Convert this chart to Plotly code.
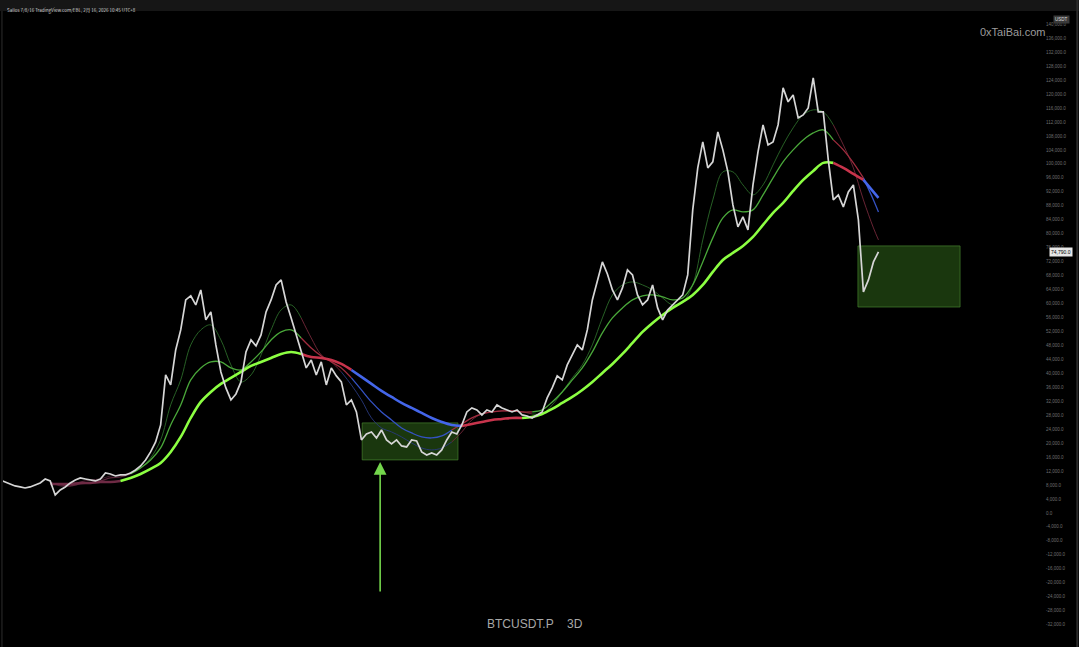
import pandas as pd
import plotly.graph_objects as go

# ---------------- data (BTCUSDT.P, 3D, values in thousand USDT) ----------------
series_start = "2019-10-27"
sample_hours = 322  # spacing between sampled closes

close_k = [
    9.46, 8.88, 8.31, 7.74, 7.45, 7.16, 7.45, 8.02, 8.60, 9.74,
    9.17, 5.16, 6.59, 7.45, 8.60, 9.46, 10.03, 9.74, 9.46, 9.17,
    9.74, 11.46, 11.17, 10.60, 10.89, 10.89, 11.46, 12.32, 13.47, 15.19,
    17.48, 20.34, 25.21, 39.54, 36.68, 46.70, 52.44, 61.03, 62.18, 59.60,
    63.90, 55.30, 57.59, 48.14, 40.40, 35.82, 32.38, 34.10, 37.54, 46.13,
    49.57, 47.85, 51.00, 57.59, 61.03, 65.33, 66.76, 60.46, 55.87, 51.00,
    46.13, 41.55, 43.84, 39.54, 43.27, 36.68, 41.55, 39.26, 37.54, 30.95,
    32.38, 28.94, 20.92, 22.64, 23.21, 21.49, 23.78, 20.92, 19.77, 20.92,
    19.20, 18.91, 20.92, 20.63, 17.48, 16.62, 17.19, 16.62, 18.05, 20.92,
    23.21, 22.64, 25.21, 28.94, 30.09, 29.51, 28.08, 29.51, 28.94, 30.95,
    30.09, 29.51, 28.94, 29.51, 28.08, 27.79, 27.22, 28.08, 28.94, 32.95,
    35.82, 39.26, 38.11, 42.41, 45.27, 48.14, 46.70, 52.44, 61.03, 66.76,
    71.92, 68.48, 63.90, 61.03, 64.47, 69.63, 68.19, 62.46, 59.60, 61.03,
    65.33, 58.74, 55.30, 58.17, 59.60, 61.03, 62.46, 68.19, 86.82, 98.85,
    106.30, 98.85, 100.57, 109.17, 104.01, 97.71, 88.25, 81.95, 84.81, 81.09,
    93.98, 103.44, 111.17, 105.44, 106.30, 111.17, 121.78, 117.77, 119.77, 113.18,
    114.04, 116.05, 124.64, 114.90, 114.90, 101.15, 89.68, 91.12, 87.68, 91.98,
    93.98, 83.95, 63.32, 66.76, 71.92, 74.79,
]

# moving averages sampled on every 2nd close from sample 10 on (plus the last one)
ma_sample_index = list(range(10, 175, 2)) + [175]

ma_slow_k = [
    8.31, 8.31, 8.31, 8.60, 8.60, 8.88, 8.88, 9.17, 10.03, 11.17,
    12.61, 14.33, 17.48, 21.78, 27.22, 31.81, 34.67, 36.96, 38.68, 40.40,
    42.12, 43.27, 44.41, 45.56, 46.13, 45.56, 44.70, 44.41, 43.84, 42.69,
    40.97, 38.97, 36.96, 34.96, 33.24, 31.52, 30.09, 28.65, 27.22, 26.07,
    25.21, 24.93, 25.50, 26.07, 26.65, 26.93, 27.22, 27.22, 27.51, 28.37,
    29.80, 31.52, 33.24, 35.24, 37.54, 40.11, 42.69, 45.56, 48.71, 51.86,
    54.44, 56.73, 58.74, 60.46, 62.46, 65.33, 69.05, 72.49, 74.50, 76.50,
    79.08, 82.52, 85.96, 88.83, 92.26, 95.42, 97.99, 100.29, 100.29, 98.85,
    97.13, 95.42, 91.98, 90.26,
]
ma_slow_trend = ["d"] * 7 + ["g"] * 18 + ["r"] * 5 + ["b"] * 11 + ["r"] * 6 + ["g"] * 31 + ["r"] * 3 + ["b"] * 3

ma_mid_k = [
    8.60, 8.02, 7.74, 8.31, 8.60, 9.17, 10.03, 10.32, 11.17, 12.89,
    15.19, 18.62, 25.21, 30.95, 38.11, 41.55, 43.27, 43.27, 41.55, 40.97,
    43.27, 46.13, 49.57, 51.86, 52.44, 50.14, 47.28, 44.99, 43.27, 41.55,
    38.68, 35.24, 31.81, 28.94, 26.65, 24.36, 22.92, 21.78, 21.49, 22.06,
    23.78, 25.50, 27.22, 28.37, 28.94, 29.23, 29.23, 28.94, 28.94, 29.51,
    31.81, 34.67, 38.11, 41.55, 46.13, 51.58, 55.87, 58.74, 61.03, 62.18,
    62.46, 61.89, 61.03, 61.60, 65.33, 71.92, 78.80, 84.53, 86.82, 86.25,
    86.82, 91.12, 95.99, 100.57, 104.01, 106.88, 108.88, 109.74, 106.88, 104.01,
    100.29, 95.99, 89.68, 86.25,
]
ma_mid_trend = ["d"] * 8 + ["g"] * 17 + ["r"] * 5 + ["b"] * 10 + ["r"] * 8 + ["g"] * 30 + ["r"] * 3 + ["b"] * 3

ma_fast_k = [
    8.88, 7.74, 7.74, 8.88, 9.46, 9.74, 10.60, 10.89, 11.46, 12.89,
    15.76, 20.92, 30.95, 38.11, 48.14, 52.44, 53.87, 49.57, 42.41, 37.54,
    39.54, 45.27, 52.44, 58.17, 59.60, 55.87, 50.14, 45.27, 43.27, 40.40,
    36.68, 32.38, 27.22, 24.36, 23.21, 21.78, 20.06, 18.62, 18.05, 18.62,
    20.34, 23.21, 26.65, 28.37, 28.94, 29.23, 29.23, 28.94, 28.37, 28.37,
    30.95, 34.67, 38.68, 42.41, 48.14, 55.87, 62.46, 65.33, 66.19, 65.33,
    63.90, 61.60, 59.60, 60.46, 65.33, 78.22, 89.68, 97.71, 97.71, 93.98,
    91.12, 93.98, 99.71, 105.44, 110.32, 114.04, 115.47, 114.90, 111.17, 105.44,
    98.85, 89.68, 81.66, 78.22,
]
ma_fast_trend = ["d"] * 8 + ["g"] * 17 + ["r"] * 4 + ["b"] * 11 + ["r"] * 8 + ["g"] * 30 + ["r"] * 6

# highlighted zones: [start date, end date, low k, high k]
zone_2022 = ["2022-06-21", "2023-03-04", 15.2, 25.8]
zone_2026 = ["2026-02-05", "2026-11-05", 59.0, 76.5]
# arrow: date, tail k, head k
arrow_2022 = ["2022-08-08", -22.9, 14.6]

y_tick_k = list(range(-32, 141, 4))
axis_range_k = [-38.4, 143.8]
x_range = ["2019-11-04", "2027-06-20"]

# ---------------- styling ----------------
ma_style = {
    "slow": dict(width=2.6, colors={"g": "#8cff42", "r": "#c8344c", "b": "#4466ea", "d": "#6e2a44"}),
    "mid": dict(width=1.3, colors={"g": "#4aa83a", "r": "#a02c3e", "b": "#3452c4", "d": "#58243a"}),
    "fast": dict(width=0.9, colors={"g": "#2b6a29", "r": "#74283a", "b": "#28397e", "d": "#4a2032"}),
}

start = pd.Timestamp(series_start)
dates = [start + pd.Timedelta(hours=sample_hours * i) for i in range(len(close_k))]
ma_dates = [dates[i] for i in ma_sample_index]

fig = go.Figure()


def add_ma(values_k, trend, style):
    runs = []
    s = 0
    for i in range(1, len(trend) + 1):
        if i == len(trend) or trend[i] != trend[s]:
            runs.append((s, i, trend[s]))
            s = i
    for a, b, t in runs:
        e = min(b + 1, len(values_k))
        fig.add_trace(go.Scatter(
            x=ma_dates[a:e], y=[v * 1000 for v in values_k[a:e]],
            mode="lines", line=dict(color=style["colors"][t], width=style["width"], shape="spline"),
            hoverinfo="skip", showlegend=False))


add_ma(ma_fast_k, ma_fast_trend, ma_style["fast"])
add_ma(ma_mid_k, ma_mid_trend, ma_style["mid"])
add_ma(ma_slow_k, ma_slow_trend, ma_style["slow"])

fig.add_trace(go.Scatter(
    x=dates, y=[v * 1000 for v in close_k], mode="lines",
    line=dict(color="#d6d6d6", width=1.7), showlegend=False, name="BTCUSDT.P"))

for z in (zone_2022, zone_2026):
    fig.add_shape(type="rect", xref="x", yref="y", x0=z[0], x1=z[1], y0=z[2] * 1000, y1=z[3] * 1000,
                  fillcolor="rgba(52,110,28,0.5)", line=dict(color="rgba(70,130,45,0.7)", width=1),
                  layer="below")

fig.add_annotation(x=arrow_2022[0], y=arrow_2022[2] * 1000, ax=arrow_2022[0], ay=arrow_2022[1] * 1000,
                   xref="x", yref="y", axref="x", ayref="y", showarrow=True, arrowhead=2,
                   arrowsize=1.6, arrowwidth=1.6, arrowcolor="#74d64c", text="")

# current price label
fig.add_annotation(x=1.004, y=close_k[-1] * 1000, xref="paper", yref="y", xanchor="left",
                   text=f"{close_k[-1] * 1000:,.1f}", showarrow=False,
                   font=dict(size=5, color="#000000", family="Liberation Sans"),
                   bgcolor="#e6e6e6", borderpad=1)
# currency label
fig.add_annotation(x=1.008, y=0.994, xref="paper", yref="paper", xanchor="left",
                   text="USDT", showarrow=False,
                   font=dict(size=4.5, color="#dddddd", family="Liberation Sans"),
                   bgcolor="#3a3a3a", borderpad=1)
# watermark & symbol
fig.add_annotation(x=0.969, y=0.98, xref="paper", yref="paper", xanchor="center", text="0xTaiBai.com",
                   showarrow=False, font=dict(size=11, color="#9c9c9c", family="Liberation Sans"))
fig.add_annotation(x=0.5106, y=0.022, xref="paper", yref="paper", xanchor="center",
                   text="BTCUSDT.P&nbsp;&nbsp;&nbsp;&nbsp;3D",
                   showarrow=False, font=dict(size=12, color="#a8a8a8", family="Liberation Sans"))
# header strip
fig.add_shape(type="rect", xref="paper", yref="paper", x0=-0.01, x1=1.04, y0=1.0, y1=1.03,
              fillcolor="#161616", line=dict(width=0))
fig.add_annotation(x=0.002, y=1.009, xref="paper", yref="paper", xanchor="left",
                   text="Sallos 7/8/16 TradingView.com/EBL, 2月 16, 2026 10:45 UTC+8", showarrow=False,
                   font=dict(size=4.5, color="#cfcfcf", family="Noto Sans CJK SC"))
# borders
fig.add_shape(type="line", xref="paper", yref="paper", x0=-0.001, x1=-0.001, y0=0, y1=1,
              line=dict(color="#2c2c2c", width=1))
fig.add_shape(type="line", xref="paper", yref="paper", x0=1.031, x1=1.031, y0=0, y1=1.02,
              line=dict(color="#2c2c2c", width=2))

fig.update_layout(
    width=1079, height=647,
    margin=dict(l=3, r=34, t=11, b=0, autoexpand=False),
    paper_bgcolor="#000000", plot_bgcolor="#000000",
    showlegend=False,
    xaxis=dict(range=x_range, visible=False, showgrid=False, automargin=False),
    yaxis=dict(side="right", range=[v * 1000 for v in axis_range_k], showgrid=False, zeroline=False,
               automargin=False,
               tickvals=[v * 1000 for v in y_tick_k],
               ticktext=[f"{v * 1000:,.1f}" for v in y_tick_k],
               tickfont=dict(size=4.5, color="#6e6e6e", family="Liberation Sans"),
               ticks="", showline=False),
)

fig.write_html(
    "out.html",
    config={"displayModeBar": False},
    post_script="document.body.style.margin='0';document.body.style.background='#000';",
)
